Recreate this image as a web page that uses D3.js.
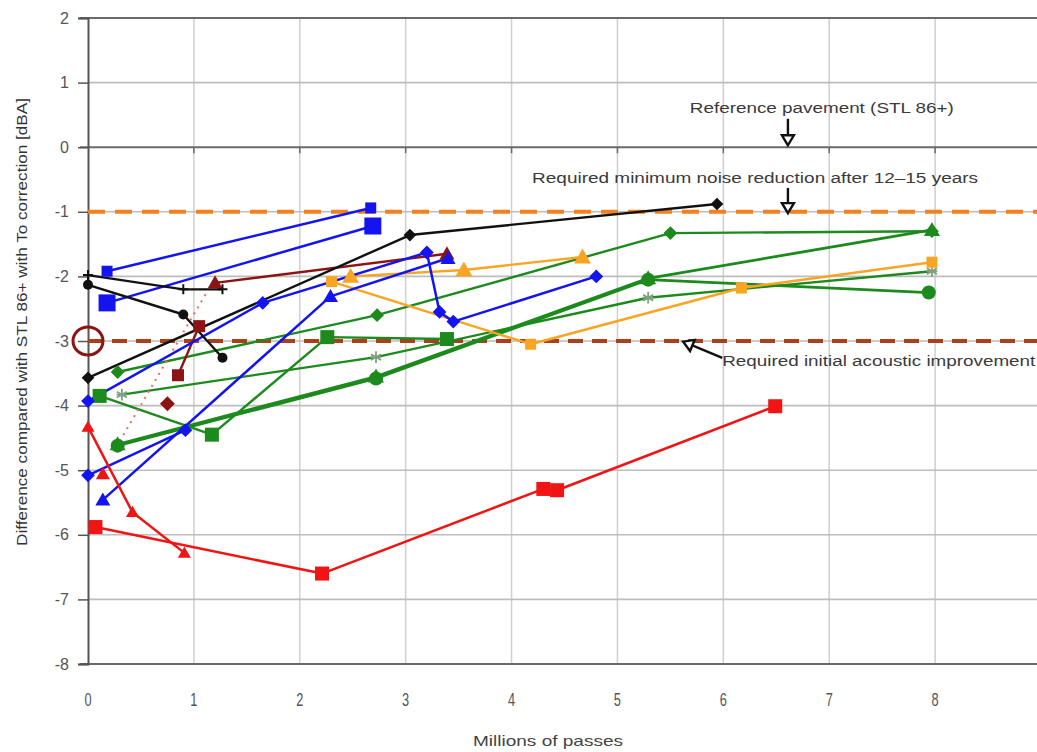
<!DOCTYPE html>
<html>
<head>
<meta charset="utf-8">
<script src="https://cdn.jsdelivr.net/npm/d3@7"></script>
<style>
  body { margin: 0; background: #fff; }
  text { font-family: "Liberation Sans", Arial, sans-serif; }
</style>
</head>
<body>
<svg id="chart" width="1037" height="752"></svg>
<script>
// Axis ticks
const xTickValues = [0, 1, 2, 3, 4, 5, 6, 7, 8, 9];
const xTickLabels = [0, 1, 2, 3, 4, 5, 6, 7, 8];
const yTickValues = [2, 1, 0, -1, -2, -3, -4, -5, -6, -7, -8];

// Reference levels [dBA]
const minimumAfterYears = -1;
const initialImprovement = -3;

// Measured sections: [millions of passes, difference dBA]
const blueSmallSquares = [[0.18, -1.92], [2.67, -0.94]];
const blueLargeSquares = [[0.18, -2.41], [2.69, -1.22]];
const blueDiamondsA = [[0, -3.93], [1.65, -2.41], [3.2, -1.63], [3.32, -2.55], [3.45, -2.7], [4.8, -2.0]];
const blueDiamondsB = [[0, -5.08], [0.92, -4.38]];
const blueTriangles = [[0.14, -5.46], [2.29, -2.31], [3.4, -1.72]];
const blackCrosses = [[0, -1.98], [0.9, -2.2], [1.27, -2.2]];
const blackCircles = [[0, -2.13], [0.9, -2.59], [1.27, -3.26]];
const blackDiamonds = [[0, -3.57], [3.04, -1.36], [5.94, -0.88]];
const maroonTriangles = [[1.2, -2.1], [3.39, -1.65]];
const maroonSquares = [[0.85, -3.53], [1.05, -2.77]];
const maroonDiamond = [[0.75, -3.97]];
const pinkDotted = [[0.3, -4.55], [1.12, -2.25]];
const orangeTriangles = [[2.48, -2.0], [3.55, -1.9], [4.67, -1.7]];
const orangeSquares = [[2.3, -2.08], [4.18, -3.05], [6.17, -2.18], [7.97, -1.78]];
const greenDiamonds = [[0.28, -3.48], [2.73, -2.6], [5.5, -1.33], [7.97, -1.3]];
const greenSquares = [[0.11, -3.85], [1.17, -4.45], [2.26, -2.94], [3.39, -2.97]];
const greenTriangles = [[0.28, -4.6], [2.72, -3.55], [5.29, -2.03], [7.97, -1.28]];
const greenCircles = [[0.28, -4.62], [2.72, -3.58], [5.29, -2.05], [7.94, -2.25]];
const greenStars = [[0.32, -3.83], [2.72, -3.25], [5.29, -2.33], [7.97, -1.92]];
const redTriangles = [[0, -4.33], [0.42, -5.65], [0.91, -6.28]];
const redTriangleSingle = [[0.14, -5.06]];
const redSquares = [[0.07, -5.88], [2.21, -6.6], [4.3, -5.29], [4.43, -5.31], [6.49, -4.01]];

const BLUE = "#1414f0", GREEN = "#1c8a1c", BLACK = "#111", MAROON = "#8b1414",
      ORANGE = "#f8a524", RED = "#f01414", STAR = "#7fa07f";

const series = [
  { data: greenStars, color: GREEN, width: 2.4, marker: "star", size: 9, mcolor: STAR },
  { data: greenSquares, color: GREEN, width: 2.4, marker: "square", size: 14 },
  { data: greenDiamonds, color: GREEN, width: 2.4, marker: "diamond", size: 12 },
  { data: greenCircles, color: GREEN, width: 2.8, marker: "circle", size: 14 },
  { data: greenTriangles, color: GREEN, width: 2.8, marker: "triangle", size: 16 },
  { data: orangeSquares, color: ORANGE, width: 2.4, marker: "square", size: 11 },
  { data: orangeTriangles, color: ORANGE, width: 2.4, marker: "triangle", size: 17 },
  { data: pinkDotted, color: "#e8706a", width: 2, dash: "2,5", marker: null },
  { data: maroonTriangles, color: MAROON, width: 2.4, marker: "triangle", size: 15 },
  { data: maroonSquares, color: MAROON, width: 2.4, marker: "square", size: 12 },
  { data: maroonDiamond, color: MAROON, width: 2.4, marker: "diamond", size: 13 },
  { data: blueDiamondsA, color: BLUE, width: 2.5, marker: "diamond", size: 12 },
  { data: blueDiamondsB, color: BLUE, width: 2.5, marker: "diamond", size: 12 },
  { data: blueTriangles, color: BLUE, width: 2.5, marker: "triangle", size: 15 },
  { data: blueSmallSquares, color: BLUE, width: 2.5, marker: "square", size: 11 },
  { data: blueLargeSquares, color: BLUE, width: 2.5, marker: "square", size: 17 },
  { data: blackCrosses, color: BLACK, width: 2.2, marker: "plus", size: 10 },
  { data: blackCircles, color: BLACK, width: 2.4, marker: "circle", size: 10 },
  { data: blackDiamonds, color: BLACK, width: 2.4, marker: "diamond", size: 11 },
  { data: redTriangles, color: RED, width: 2.5, marker: "triangle", size: 13 },
  { data: redTriangleSingle, color: RED, width: 2.5, marker: "triangle", size: 14 },
  { data: redSquares, color: RED, width: 2.5, marker: "square", size: 14 }
];

const svg = d3.select("#chart");
const x = d3.scaleLinear().domain([0, 9]).range([88, 1041]);
const y = d3.scaleLinear().domain([-8, 2]).range([664, 18]);

const grid = svg.append("g");
// vertical gridlines
grid.selectAll("line.v").data(xTickValues.filter(d => d > 0)).join("line")
  .attr("x1", d => x(d)).attr("x2", d => x(d))
  .attr("y1", y(2)).attr("y2", y(-8))
  .attr("stroke", "#cfcfcf").attr("stroke-width", 1.5);
// horizontal gridlines
grid.selectAll("line.h").data(yTickValues.filter(d => d !== 2 && d !== -8 && d !== 0)).join("line")
  .attr("x1", x(0)).attr("x2", 1037)
  .attr("y1", d => y(d)).attr("y2", d => y(d))
  .attr("stroke", "#bdbdbd").attr("stroke-width", 1.6);
// frame lines at top and bottom, and the x axis at zero
[2, -8, 0].forEach(v => {
  grid.append("line")
    .attr("x1", x(0) - 8).attr("x2", 1037)
    .attr("y1", y(v)).attr("y2", y(v))
    .attr("stroke", "#6a6a6a").attr("stroke-width", 2);
});

// y axis with outward ticks
const yAxis = svg.append("g").attr("transform", `translate(${x(0)},0)`)
  .call(d3.axisLeft(y).tickValues(yTickValues).tickSize(10).tickPadding(9).tickFormat(d3.format("d")));
yAxis.select(".domain").attr("stroke", "#555").attr("stroke-width", 2);
yAxis.selectAll(".tick line").attr("stroke", "#555").attr("stroke-width", 1.5);
yAxis.selectAll(".tick text").attr("fill", "#555").style("font-size", "16px")
  .style("font-family", "'Liberation Sans', Arial, sans-serif").text(d => d < 0 ? "-" + Math.abs(d) : d);

// tick marks along the zero line
svg.append("g").selectAll("line").data(xTickValues.filter(d => d > 0)).join("line")
  .attr("x1", d => x(d)).attr("x2", d => x(d))
  .attr("y1", y(0)).attr("y2", y(0) + 6)
  .attr("stroke", "#6a6a6a").attr("stroke-width", 1.5);

// x tick labels below the plot
svg.append("g").selectAll("text").data(xTickLabels).join("text")
  .attr("x", d => x(d)).attr("y", 706)
  .attr("text-anchor", "middle").attr("fill", "#555")
  .style("font-size", "16px")
  .attr("transform", d => `translate(${x(d)},706) scale(0.8,1.1) translate(${-x(d)},-706)`)
  .text(d => d);

// axis titles
svg.append("text")
  .attr("transform", `translate(27,${322}) rotate(-90)`)
  .attr("text-anchor", "middle").attr("fill", "#333")
  .style("font-size", "15px")
  .attr("textLength", 448).attr("lengthAdjust", "spacingAndGlyphs")
  .text("Difference compared with STL 86+ with To correction [dBA]");
svg.append("text")
  .attr("x", 548).attr("y", 746)
  .attr("text-anchor", "middle").attr("fill", "#444")
  .style("font-size", "15px")
  .attr("textLength", 150).attr("lengthAdjust", "spacingAndGlyphs")
  .text("Millions of passes");

// requirement levels
svg.append("line")
  .attr("x1", x(0)).attr("x2", 1037)
  .attr("y1", y(minimumAfterYears)).attr("y2", y(minimumAfterYears))
  .attr("stroke", "#f5801f").attr("stroke-width", 4).attr("stroke-dasharray", "17,10");
svg.append("line")
  .attr("x1", x(0)).attr("x2", 1037)
  .attr("y1", y(initialImprovement)).attr("y2", y(initialImprovement))
  .attr("stroke", "#a8401e").attr("stroke-width", 4).attr("stroke-dasharray", "15,9");

// series lines
const line = d3.line().x(d => x(d[0])).y(d => y(d[1]));
const lines = svg.append("g");
series.forEach(s => {
  if (s.data.length < 2) return;
  lines.append("path").attr("d", line(s.data))
    .attr("fill", "none").attr("stroke", s.color).attr("stroke-width", s.width)
    .attr("stroke-dasharray", s.dash || null).attr("stroke-linejoin", "round");
});

// markers
const marks = svg.append("g");
function drawMarker(g, s, d) {
  const cx = x(d[0]), cy = y(d[1]), r = s.size / 2, c = s.mcolor || s.color;
  if (s.marker === "square") {
    g.append("rect").attr("x", cx - r).attr("y", cy - r).attr("width", s.size).attr("height", s.size).attr("fill", c);
  } else if (s.marker === "diamond") {
    g.append("path").attr("d", `M${cx},${cy - r * 1.15}L${cx + r * 1.15},${cy}L${cx},${cy + r * 1.15}L${cx - r * 1.15},${cy}Z`).attr("fill", c);
  } else if (s.marker === "triangle") {
    g.append("path").attr("d", `M${cx},${cy - r}L${cx + r},${cy + r * 0.75}L${cx - r},${cy + r * 0.75}Z`).attr("fill", c);
  } else if (s.marker === "circle") {
    g.append("circle").attr("cx", cx).attr("cy", cy).attr("r", r).attr("fill", c);
  } else if (s.marker === "plus") {
    g.append("path").attr("d", `M${cx - r},${cy}H${cx + r}M${cx},${cy - r}V${cy + r}`)
      .attr("stroke", c).attr("stroke-width", 2);
  } else if (s.marker === "star") {
    let p = "";
    [90, 30, 150].forEach(a => {
      const dx = Math.cos(a * Math.PI / 180) * r * 1.3, dy = Math.sin(a * Math.PI / 180) * r * 1.3;
      p += `M${cx - dx},${cy - dy}L${cx + dx},${cy + dy}`;
    });
    p += `M${cx - r * 1.2},${cy}H${cx + r * 1.2}`;
    g.append("path").attr("d", p).attr("stroke", c).attr("stroke-width", 1.8);
  }
}
series.forEach(s => {
  if (!s.marker) return;
  s.data.forEach(d => drawMarker(marks, s, d));
});

// highlighted -3 dBA mark on the axis
svg.append("ellipse")
  .attr("cx", x(0)).attr("cy", y(initialImprovement))
  .attr("rx", 15).attr("ry", 14)
  .attr("fill", "none").attr("stroke", MAROON).attr("stroke-width", 3);

// annotations
function arrow(x1, y1, x2, y2) {
  const g = svg.append("g");
  const px1 = x(x1), py1 = y(y1), px2 = x(x2), py2 = y(y2);
  const ang = Math.atan2(py2 - py1, px2 - px1);
  const hl = 10, hw = 6;
  const bx = px2 - Math.cos(ang) * hl, by = py2 - Math.sin(ang) * hl;
  g.append("line").attr("x1", px1).attr("y1", py1).attr("x2", bx).attr("y2", by)
    .attr("stroke", "#111").attr("stroke-width", 2.4);
  const nx = -Math.sin(ang) * hw, ny = Math.cos(ang) * hw;
  g.append("path").attr("d", `M${px2},${py2}L${bx + nx},${by + ny}L${bx - nx},${by - ny}Z`)
    .attr("fill", "#fff").attr("stroke", "#111").attr("stroke-width", 2.4).attr("stroke-linejoin", "miter");
}
function note(tx, ty, str, len) {
  svg.append("text").attr("x", x(tx)).attr("y", y(ty))
    .attr("text-anchor", "middle").attr("fill", "#3a3a3a")
    .style("font-size", "15.5px")
    .attr("textLength", len).attr("lengthAdjust", "spacingAndGlyphs")
    .text(str);
}
note(6.93, 0.53, "Reference pavement (STL 86+)", 264);
arrow(6.61, 0.44, 6.61, 0.03);
note(6.3, -0.55, "Required minimum noise reduction after 12\u201315 years", 446);
arrow(6.61, -0.63, 6.61, -1.02);
svg.append("text").attr("x", x(5.99)).attr("y", y(-3.39))
  .attr("fill", "#3a3a3a").style("font-size", "15.5px")
  .attr("textLength", 313).attr("lengthAdjust", "spacingAndGlyphs")
  .text("Required initial acoustic improvement");
arrow(5.99, -3.26, 5.62, -3.01);
</script>
</body>
</html>
